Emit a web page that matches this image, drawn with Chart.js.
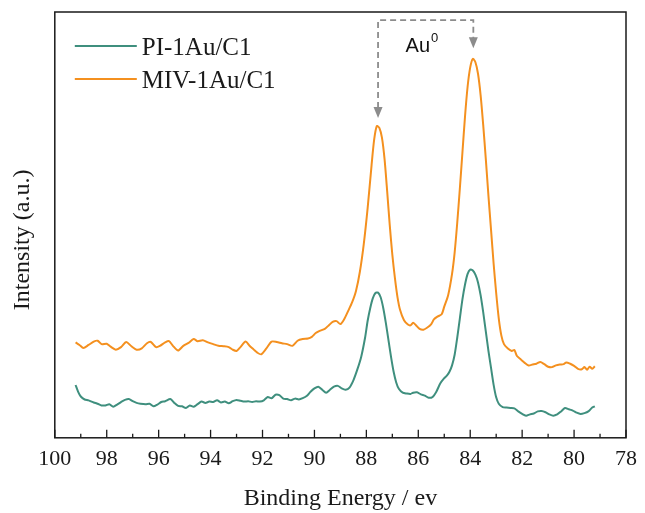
<!DOCTYPE html>
<html>
<head>
<meta charset="utf-8">
<script src="https://cdn.jsdelivr.net/npm/chart.js@4.4.0/dist/chart.umd.min.js"></script>
<style>
  html, body { margin: 0; padding: 0; background: #fff; }
</style>
</head>
<body>
<canvas id="chart" width="645" height="513"></canvas>
<script>
// binding energy (eV) and intensity (a.u.)
var energyPI = [99.2, 99.1, 99.0, 98.85, 98.7, 98.5, 98.35, 98.2, 98.05, 97.9, 97.75, 97.6, 97.45, 97.3, 97.15, 97.0,
  96.85, 96.7, 96.5, 96.35, 96.2, 96.05, 95.9, 95.75, 95.55, 95.4, 95.25, 95.1, 94.95, 94.8, 94.65, 94.5, 94.35,
  94.2, 94.05, 93.9, 93.75, 93.6, 93.45, 93.3, 93.15, 93.0, 92.85, 92.7, 92.55, 92.4, 92.25, 92.1, 91.95, 91.8,
  91.65, 91.5, 91.35, 91.2, 91.05, 90.9, 90.75, 90.6, 90.45, 90.3, 90.15, 90.0, 89.85, 89.7, 89.55, 89.4, 89.25,
  89.1, 88.95, 88.8, 88.65, 88.5, 88.35, 88.2, 88.05, 87.95, 87.85, 87.75, 87.65, 87.55, 87.45, 87.35, 87.25,
  87.15, 87.05, 86.95, 86.85, 86.75, 86.6, 86.45, 86.3, 86.2, 86.05, 85.9, 85.75, 85.6, 85.45, 85.3, 85.15, 85.0,
  84.9, 84.8, 84.7, 84.6, 84.5, 84.4, 84.3, 84.2, 84.1, 84.0, 83.9, 83.8, 83.7, 83.6, 83.5, 83.4, 83.3, 83.2,
  83.1, 83.0, 82.9, 82.75, 82.6, 82.45, 82.3, 82.15, 82.0, 81.85, 81.7, 81.55, 81.4, 81.25, 81.1, 80.95, 80.8,
  80.65, 80.5, 80.35, 80.2, 80.05, 79.9, 79.75, 79.6, 79.45, 79.3, 79.2];
var intensityPI = [12.4, 10.8, 9.7, 9.0, 8.8, 8.3, 8.0, 7.6, 7.6, 7.9, 7.3, 7.8, 8.4, 8.9, 9.1, 8.6,
  8.2, 8.0, 7.9, 8.0, 7.4, 7.8, 8.4, 8.6, 9.1, 8.2, 7.5, 7.4, 7.0, 7.6, 7.3, 7.9, 8.5,
  8.2, 8.5, 8.4, 8.8, 8.3, 8.5, 8.1, 8.6, 8.9, 8.7, 8.5, 8.6, 8.4, 8.6, 8.5, 8.8, 9.6,
  9.3, 10.1, 10.0, 9.2, 9.1, 8.8, 9.2, 9.0, 9.3, 9.8, 10.8, 11.6, 12.0, 11.3, 10.6, 11.3, 12.0,
  12.2, 11.6, 11.3, 11.8, 13.5, 16.0, 19.0, 23.5, 27.5, 30.5, 32.8, 34.0, 34.1, 33.0, 30.5, 27.0,
  23.0, 19.0, 15.5, 13.0, 11.5, 10.6, 10.4, 10.3, 10.6, 10.7, 10.2, 9.9, 9.4, 9.6, 10.9, 12.8, 14.0,
  14.6, 15.5, 17.0, 19.5, 23.5, 28.0, 32.5, 36.0, 38.5, 39.5, 39.3, 38.3, 36.5, 33.5, 29.5, 25.0, 20.5, 16.5,
  12.5, 9.5, 8.0, 7.2, 7.1, 7.0, 6.9, 6.2, 5.6, 5.2, 5.5, 5.7, 6.2, 6.3, 6.0, 5.5, 5.2,
  5.5, 6.2, 7.0, 6.7, 6.4, 5.9, 5.6, 5.8, 6.2, 7.1, 7.4];

var energyMIV = [99.2, 99.05, 98.9, 98.7, 98.5, 98.35, 98.2, 98.0, 97.85, 97.65, 97.45, 97.25, 97.05, 96.85,
  96.65, 96.45, 96.3, 96.1, 95.95, 95.75, 95.6, 95.45, 95.25, 95.05, 94.85, 94.65, 94.5, 94.3, 94.1, 93.9,
  93.7, 93.5, 93.3, 93.15, 93.0, 92.85, 92.65, 92.5, 92.35, 92.2, 92.05, 91.85, 91.65, 91.45, 91.25, 91.05,
  90.85, 90.65, 90.45, 90.25, 90.1, 89.95, 89.8, 89.6, 89.45, 89.3, 89.15, 89.0, 88.85, 88.7, 88.55, 88.4,
  88.25, 88.1, 87.95, 87.8, 87.7, 87.6, 87.5, 87.4, 87.3, 87.2, 87.1, 87.0, 86.9, 86.8, 86.7, 86.55, 86.4,
  86.3, 86.2, 86.1, 85.95, 85.8, 85.65, 85.5, 85.4, 85.25, 85.1, 85.0, 84.85, 84.7, 84.6, 84.5, 84.4, 84.3,
  84.2, 84.1, 84.0, 83.9, 83.8, 83.7, 83.6, 83.5, 83.4, 83.3, 83.2, 83.1, 83.0, 82.9, 82.8, 82.7, 82.55,
  82.4, 82.3, 82.2, 82.05, 81.9, 81.75, 81.6, 81.45, 81.3, 81.15, 81.0, 80.85, 80.7, 80.55, 80.4, 80.3,
  80.15, 80.0, 79.85, 79.7, 79.6, 79.5, 79.4, 79.3, 79.2];
var intensityMIV = [22.4, 21.8, 21.1, 21.8, 22.6, 22.8, 22.0, 22.1, 21.4, 20.7, 21.3, 22.5, 21.5, 20.7,
  21.0, 22.2, 22.5, 21.3, 21.6, 22.4, 22.7, 21.6, 20.5, 21.6, 22.3, 23.2, 22.7, 22.9, 22.4, 22.0,
  21.6, 21.5, 21.3, 20.7, 20.4, 21.3, 22.6, 21.6, 20.8, 20.0, 19.6, 21.0, 22.6, 22.5, 22.2, 22.0,
  21.6, 22.8, 23.2, 23.3, 23.7, 24.6, 25.1, 25.6, 26.4, 27.2, 27.4, 26.7, 27.9, 29.8, 31.8, 34.5,
  39.0, 45.5, 54.0, 64.0, 70.0, 73.2, 72.8, 70.5, 65.5, 58.0, 50.0, 43.0, 37.5, 33.0, 30.0, 27.6, 26.6,
  26.4, 27.0, 26.5, 25.6, 25.4, 25.9, 26.7, 27.8, 28.5, 29.0, 30.8, 33.5, 38.5, 43.5, 50.5, 58.5, 67.0,
  75.5, 82.5, 87.0, 89.0, 88.2, 85.5, 80.5, 73.5, 65.5, 57.0, 49.0, 41.0, 34.0, 28.0, 24.0, 22.0, 21.0,
  20.4, 20.6, 19.2, 18.4, 17.6, 17.0, 17.2, 17.4, 17.8, 17.3, 16.7, 16.6, 17.0, 17.2, 17.3, 17.7,
  17.4, 16.9, 16.2, 16.1, 16.6, 16.0, 16.7, 16.2, 16.8];

var seriesNames = ['PI-1Au/C1', 'MIV-1Au/C1'];
var seriesColors = ['#3f8f7e', '#f4901f'];

// Au0 doublet marked by the bracket (eV)
var au0Peaks = [87.55, 83.88];
var au0ArrowTips = [75.1, 91.5];

function toPoints(xs, ys) {
  var out = [];
  for (var i = 0; i < xs.length; i++) out.push({x: xs[i], y: ys[i]});
  return out;
}

var framePlugin = {
  id: 'frame',
  afterDraw: function(chart) {
    var ctx = chart.ctx, a = chart.chartArea;
    var xs = chart.scales.x, ys = chart.scales.y;
    ctx.save();

    // box round the plot
    ctx.strokeStyle = '#1a1a1a';
    ctx.lineWidth = 1.5;
    ctx.strokeRect(a.left, a.top, a.right - a.left, a.bottom - a.top);

    // inward ticks, long on even values
    ctx.lineWidth = 1.3;
    xs.ticks.forEach(function(t) {
      var px = xs.getPixelForValue(t.value);
      var len = (Math.round(t.value) % 2 === 0) ? 8 : 4;
      ctx.beginPath();
      ctx.moveTo(px, a.bottom);
      ctx.lineTo(px, a.bottom - len);
      ctx.stroke();
    });

    // legend
    ctx.font = '25px "Liberation Serif"';
    ctx.textBaseline = 'middle';
    ctx.textAlign = 'left';
    for (var i = 0; i < seriesNames.length; i++) {
      var ly = a.top + 34 + i * 33;
      ctx.strokeStyle = seriesColors[i];
      ctx.lineWidth = 2.2;
      ctx.beginPath();
      ctx.moveTo(a.left + 20, ly);
      ctx.lineTo(a.left + 82, ly);
      ctx.stroke();
      ctx.fillStyle = '#1a1a1a';
      ctx.fillText(seriesNames[i], a.left + 87, ly + 2);
    }

    // Au0 bracket with arrows
    var x1 = xs.getPixelForValue(au0Peaks[0]);
    var x2 = xs.getPixelForValue(au0Peaks[1]);
    var top = ys.getPixelForValue(98.1);
    var t1 = ys.getPixelForValue(au0ArrowTips[0]);
    var t2 = ys.getPixelForValue(au0ArrowTips[1]);
    ctx.strokeStyle = '#8c8c8c';
    ctx.fillStyle = '#8c8c8c';
    ctx.lineWidth = 1.8;
    ctx.setLineDash([6, 4]);
    ctx.beginPath();
    ctx.moveTo(x1, t1 - 10);
    ctx.lineTo(x1, top);
    ctx.lineTo(x2, top);
    ctx.lineTo(x2, t2 - 10);
    ctx.stroke();
    ctx.setLineDash([]);
    [[x1, t1], [x2, t2]].forEach(function(p) {
      ctx.beginPath();
      ctx.moveTo(p[0], p[1]);
      ctx.lineTo(p[0] - 4.5, p[1] - 11);
      ctx.lineTo(p[0] + 4.5, p[1] - 11);
      ctx.closePath();
      ctx.fill();
    });

    var tx = xs.getPixelForValue(86.49);
    var ty = ys.getPixelForValue(90.6);
    ctx.fillStyle = '#111';
    ctx.textBaseline = 'alphabetic';
    ctx.font = '20px "Liberation Sans"';
    ctx.fillText('Au', tx, ty);
    var w = ctx.measureText('Au').width;
    ctx.font = '13px "Liberation Sans"';
    ctx.fillText('0', tx + w + 1, ty - 10);

    ctx.restore();
  }
};

new Chart(document.getElementById('chart'), {
  type: 'line',
  data: {
    datasets: [
      {
        label: seriesNames[0],
        data: toPoints(energyPI, intensityPI),
        borderColor: seriesColors[0],
        borderWidth: 2,
        pointRadius: 0,
        tension: 0.25,
        fill: false
      },
      {
        label: seriesNames[1],
        data: toPoints(energyMIV, intensityMIV),
        borderColor: seriesColors[1],
        borderWidth: 2,
        pointRadius: 0,
        tension: 0.25,
        fill: false
      }
    ]
  },
  options: {
    responsive: false,
    animation: false,
    layout: { padding: { left: 4, right: 15, top: 12, bottom: 0 } },
    plugins: {
      legend: { display: false },
      tooltip: { enabled: false }
    },
    scales: {
      x: {
        type: 'linear',
        reverse: true,
        min: 78,
        max: 100,
        grid: { display: false, drawTicks: false },
        border: { display: false },
        ticks: {
          stepSize: 1,
          autoSkip: false,
          maxRotation: 0,
          padding: 8,
          color: '#1a1a1a',
          font: { family: '"Liberation Serif"', size: 22 },
          callback: function(v) { return (Math.round(v) % 2 === 0) ? v : ''; }
        },
        title: {
          display: true,
          text: 'Binding Energy / ev',
          color: '#1a1a1a',
          font: { family: '"Liberation Serif"', size: 24 },
          padding: { top: 4, bottom: 0 }
        }
      },
      y: {
        min: 0,
        max: 100,
        grid: { display: false, drawTicks: false },
        border: { display: false },
        ticks: { display: false },
        title: {
          display: true,
          text: 'Intensity (a.u.)     ',
          color: '#1a1a1a',
          font: { family: '"Liberation Serif"', size: 24 },
          padding: { top: 4, bottom: 18 }
        }
      }
    }
  },
  plugins: [framePlugin]
});
</script>
</body>
</html>
